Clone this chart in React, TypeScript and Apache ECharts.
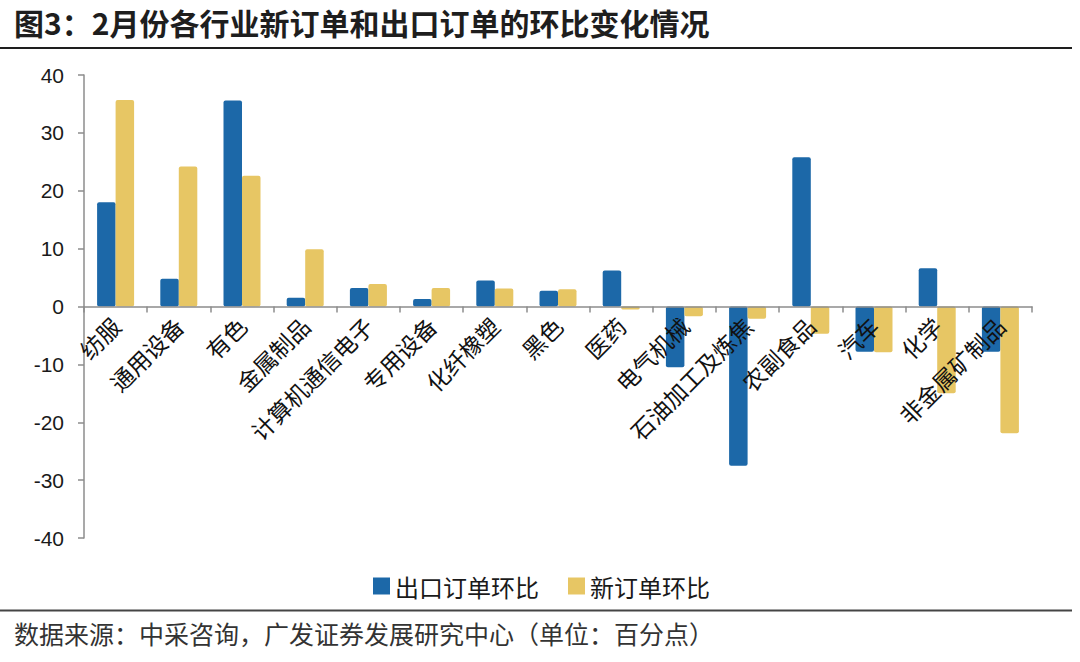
import React, { useEffect, useRef } from "react";
import * as echarts from "echarts";

const categories = [
  "纺服",
  "通用设备",
  "有色",
  "金属制品",
  "计算机通信电子",
  "专用设备",
  "化纤橡塑",
  "黑色",
  "医药",
  "电气机械",
  "石油加工及炼焦",
  "农副食品",
  "汽车",
  "化学",
  "非金属矿制品",
];
const exportMoM = [18.0, 4.8, 35.6, 1.5, 3.2, 1.3, 4.5, 2.7, 6.2, -10.5, -27.5, 25.8, -7.8, 6.6, -7.8];
const newOrderMoM = [35.7, 24.2, 22.6, 9.9, 3.9, 3.2, 3.1, 3.0, -0.5, -1.7, -2.1, -4.7, -7.9, -15.0, -21.9];
const seriesNames = ["出口订单环比", "新订单环比"];
const titleText = "图3：2月份各行业新订单和出口订单的环比变化情况";
const sourceText = "数据来源：中采咨询，广发证券发展研究中心（单位：百分点）";

const CJK = '"Noto Sans CJK SC", "Noto Sans", sans-serif';
const LATIN = '"Liberation Sans", Arial, sans-serif';

const GRID_TOP = 75;
const GRID_BOTTOM = 124;
const CHART_H = 662;
const Y_MIN = -40;
const Y_MAX = 40;

export default function App() {
  const ref = useRef<HTMLDivElement>(null);
  useEffect(() => {
    if (!ref.current) return;
    const chart = echarts.init(ref.current, null, { renderer: "svg" });
    const axisColor = "#8c8c8c";
    const gridH = CHART_H - GRID_TOP - GRID_BOTTOM;
    // move the category axis up to the zero line
    const zeroOffset = -gridH * (0 - Y_MIN) / (Y_MAX - Y_MIN);
    chart.setOption({
      animation: false,
      backgroundColor: "#ffffff",
      grid: {
        left: 84,
        right: 48,
        top: GRID_TOP,
        bottom: GRID_BOTTOM,
        containLabel: false,
        outerBoundsMode: "none",
      },
      legend: {
        left: 368,
        top: 569,
        icon: "rect",
        itemWidth: 17,
        itemHeight: 17,
        itemGap: 29,
        textStyle: { fontFamily: CJK, fontSize: 24, color: "#1a1a1a" },
        data: seriesNames,
      },
      xAxis: {
        type: "category",
        data: categories,
        z: 10,
        position: "bottom",
        offset: zeroOffset,
        axisLine: { onZero: false, lineStyle: { color: axisColor, width: 1.5 } },
        axisTick: { show: true, length: 6, lineStyle: { color: axisColor, width: 1.5 } },
        axisLabel: {
          interval: 0,
          rotate: 45,
          margin: 15,
          fontFamily: CJK,
          fontSize: 23,
          color: "#111",
        },
        splitLine: { show: false },
      },
      yAxis: {
        type: "value",
        min: Y_MIN,
        max: Y_MAX,
        interval: 10,
        axisLine: { show: true, lineStyle: { color: axisColor, width: 1.5 } },
        axisTick: { show: true, inside: false, length: 6, lineStyle: { color: axisColor, width: 1.5 } },
        axisLabel: { fontFamily: LATIN, fontSize: 21, color: "#1a1a1a", margin: 20 },
        splitLine: { show: false },
      },
      series: [
        {
          name: seriesNames[0],
          type: "bar",
          data: exportMoM,
          barWidth: 18.5,
          barGap: "0%",
          itemStyle: { color: "#1c68a8", borderRadius: 2 },
        },
        {
          name: seriesNames[1],
          type: "bar",
          data: newOrderMoM,
          barWidth: 18.5,
          barGap: "0%",
          itemStyle: { color: "#e7c664", borderRadius: 2 },
        },
      ],
      graphic: [
        {
          type: "text",
          left: 14,
          top: 7,
          style: {
            text: titleText,
            fontFamily: CJK,
            fontSize: 30,
            fontWeight: "bold",
            fill: "#1e1e1e",
          },
        },
        {
          type: "line",
          shape: { x1: 0, y1: 48, x2: 1072, y2: 48 },
          style: { stroke: "#1e1e1e", lineWidth: 2 },
        },
        {
          type: "line",
          shape: { x1: 0, y1: 610.5, x2: 1072, y2: 610.5 },
          style: { stroke: "#444", lineWidth: 2 },
        },
        {
          type: "text",
          left: 14,
          top: 620,
          style: {
            text: sourceText,
            fontFamily: CJK,
            fontSize: 25,
            fill: "#333",
          },
        },
      ],
    });
    return () => chart.dispose();
  }, []);
  return (
    <div
      ref={ref}
      style={{ position: "fixed", left: 0, top: 0, width: 1080, height: 662, background: "#fff" }}
    />
  );
}
